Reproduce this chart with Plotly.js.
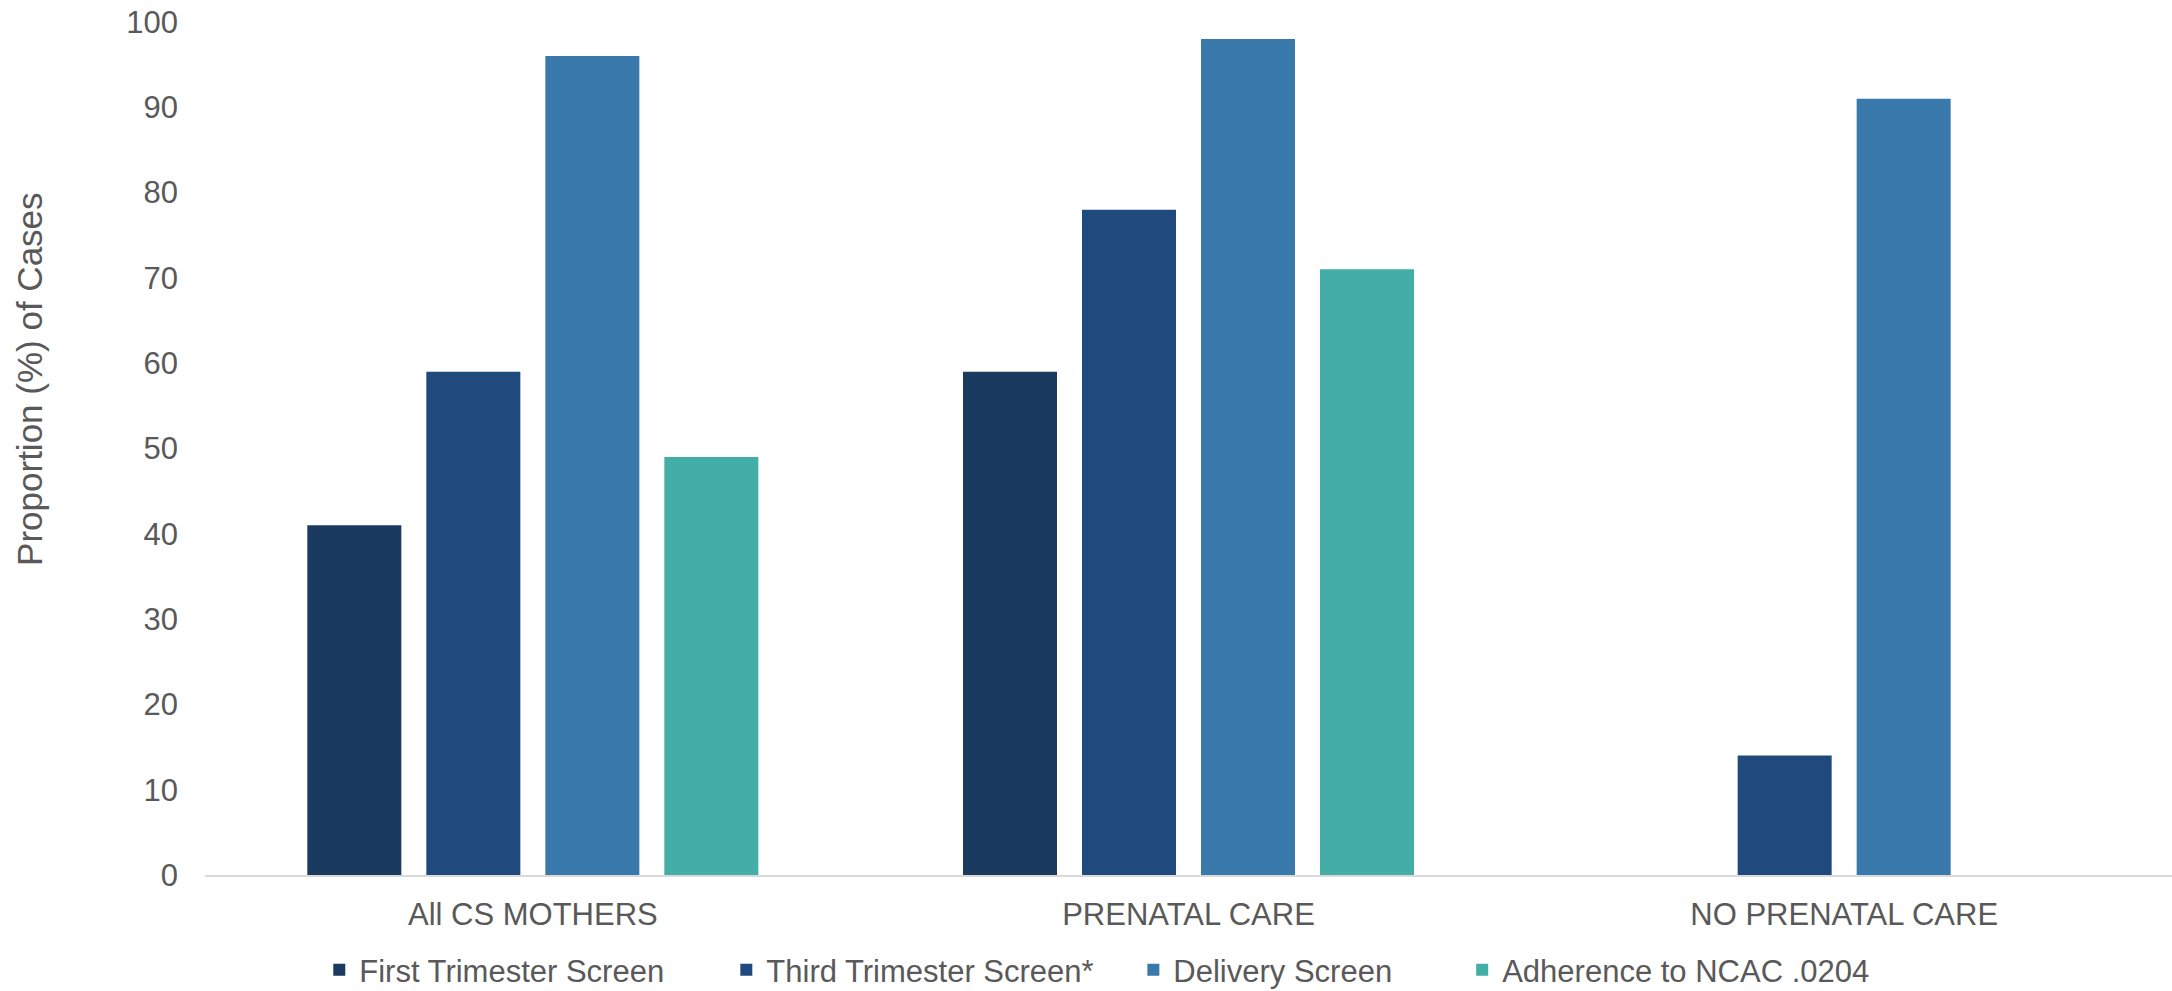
<!DOCTYPE html>
<html>
<head>
<meta charset="utf-8">
<script src="https://cdn.plot.ly/plotly-3.0.1.min.js"></script>
<style>
  html, body { margin: 0; padding: 0; background: #ffffff; }
  #chart { width: 2172px; height: 991px; }
</style>
</head>
<body>
<div id="chart"></div>
<script>
// ---- Data ----
const categories = ["All CS MOTHERS", "PRENATAL CARE", "NO PRENATAL CARE"];
const seriesNames = ["First Trimester Screen", "Third Trimester Screen*", "Delivery Screen", "Adherence to NCAC .0204"];
const firstTrimester = [41, 59, null];
const thirdTrimester = [59, 78, 14];
const deliveryScreen = [96, 98, 91];
const adherenceNCAC = [49, 71, null];
const yTickValues = [0, 10, 20, 30, 40, 50, 60, 70, 80, 90, 100];
const yAxisTitle = "Proportion (%) of Cases";

// ---- Styles ----
const colors = ["#1B3A5F", "#204A7D", "#3979AB", "#43ADA7"];
const legendIds = ["legend", "legend2", "legend3", "legend4"];
const legendX = [0.1470, 0.3344, 0.5218, 0.6732];
const FONT = "Liberation Sans, Arial, Helvetica, sans-serif";
const TEXT_COLOR = "#595959";

const seriesValues = [firstTrimester, thirdTrimester, deliveryScreen, adherenceNCAC];
const traces = seriesValues.map((vals, i) => ({
  type: "bar",
  name: seriesNames[i],
  x: categories,
  y: vals,
  marker: { color: colors[i], line: { width: 0 } },
  legend: legendIds[i],
  hoverinfo: "x+y+name"
}));

const layout = {
  width: 2172,
  height: 991,
  paper_bgcolor: "#ffffff",
  plot_bgcolor: "#ffffff",
  margin: { l: 205, r: 0, t: 22, b: 116, pad: 0 },
  barmode: "group",
  bargap: 0.274,
  bargroupgap: 0.21,
  font: { family: FONT, size: 31, color: TEXT_COLOR },
  xaxis: {
    type: "category",
    showgrid: false,
    showline: true,
    linecolor: "#D9D9D9",
    linewidth: 2,
    ticks: "",
    ticklabelstandoff: 11,
    tickfont: { family: FONT, size: 31, color: TEXT_COLOR },
    zeroline: false,
    fixedrange: true
  },
  yaxis: {
    range: [0, 100],
    tickvals: yTickValues,
    showgrid: false,
    showline: false,
    zeroline: false,
    ticks: "",
    ticklabelstandoff: 26,
    tickfont: { family: FONT, size: 31, color: TEXT_COLOR },
    fixedrange: true
  },
  annotations: [{
    text: yAxisTitle,
    xref: "paper", yref: "paper",
    x: -0.089, y: 0.5815,
    xanchor: "center", yanchor: "middle",
    textangle: -90,
    showarrow: false,
    font: { family: FONT, size: 35, color: TEXT_COLOR }
  }],
  showlegend: true
};

legendIds.forEach((id, i) => {
  layout[id] = {
    orientation: "h",
    xref: "container", yref: "container",
    x: legendX[i], y: 0.0212,
    xanchor: "left", yanchor: "middle",
    bgcolor: "rgba(0,0,0,0)",
    borderwidth: 0,
    itemclick: false,
    itemdoubleclick: false,
    font: { family: FONT, size: 31, color: TEXT_COLOR }
  };
});

Plotly.newPlot("chart", traces, layout, { displayModeBar: false, staticPlot: false });
</script>
</body>
</html>
